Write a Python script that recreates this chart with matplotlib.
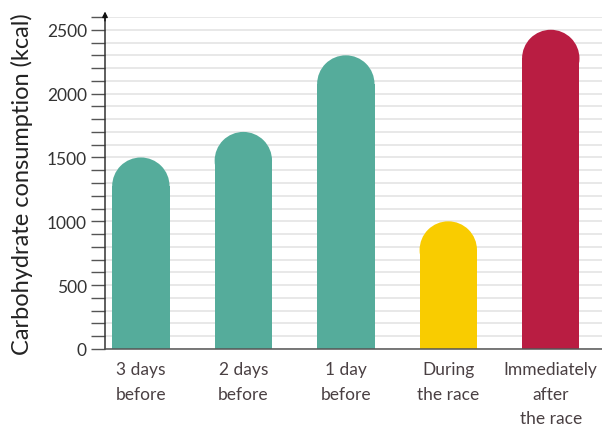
import matplotlib.pyplot as plt
from matplotlib.patches import Ellipse
from matplotlib.ticker import MultipleLocator

categories = ["3 days\nbefore", "2 days\nbefore", "1 day\nbefore", "During\nthe race", "Immediately\nafter\nthe race"]
values = [1500, 1700, 2300, 1000, 2500]
colors = ["#55ac9b", "#55ac9b", "#55ac9b", "#f9cc00", "#b91d42"]

plt.rcParams['font.family'] = ['Lato', 'DejaVu Sans']

fig = plt.figure(figsize=(6.02, 4.31), dpi=100)
ax = fig.add_axes([105 / 602, 81 / 431, 497 / 602, 332 / 431])

ax.set_xlim(-0.35, 4.5)
ax.set_ylim(0, 2600)

# grid every 100 kcal
ax.yaxis.set_major_locator(MultipleLocator(500))
ax.yaxis.set_minor_locator(MultipleLocator(100))
ax.grid(which='both', axis='y', color='#e2e2e2', linewidth=1.1, zorder=0)
ax.set_axisbelow(True)

# rounded bar caps: radius in pixels = half bar width
w = 0.56
fig.canvas.draw()
px_x = ax.transData.transform((1, 0))[0] - ax.transData.transform((0, 0))[0]
px_y = ax.transData.transform((0, 1000))[1] - ax.transData.transform((0, 0))[1]
r_px = w / 2 * px_x
r_y = r_px / px_y * 1000

xs = range(len(values))
ax.bar(xs, [v - r_y for v in values], width=w, color=colors, zorder=2)
for x, v, c in zip(xs, values, colors):
    ax.add_patch(Ellipse((x, v - r_y), w, 2 * r_y, color=c, zorder=2, linewidth=0))

ax.set_xticks(list(xs))
ax.set_xticklabels(categories, fontsize=12.5, color='#4a4043', linespacing=1.65)
ax.tick_params(axis='x', length=0, pad=9)
ax.tick_params(axis='y', which='both', length=10, width=1, color='#555555',
               labelsize=12.5, labelcolor='#333333', pad=3)
ax.set_yticks([0, 500, 1000, 1500, 2000, 2500])

for s in ['top', 'right']:
    ax.spines[s].set_visible(False)
ax.spines['left'].set_color('#333333')
ax.spines['bottom'].set_color('#555555')
ax.spines['left'].set_linewidth(1.1)
ax.spines['bottom'].set_linewidth(1.1)

# arrow on the y axis
ax.annotate('', xy=(0, 1.025), xycoords='axes fraction', xytext=(0, 0.98),
            arrowprops=dict(arrowstyle='-|>', color='#111111', lw=1, mutation_scale=8))

ax.set_ylabel('Carbohydrate consumption (kcal)', fontsize=17, color='#222222')
ax.yaxis.set_label_coords(-0.145, 0.5)

fig.savefig('out.png', dpi=100)
